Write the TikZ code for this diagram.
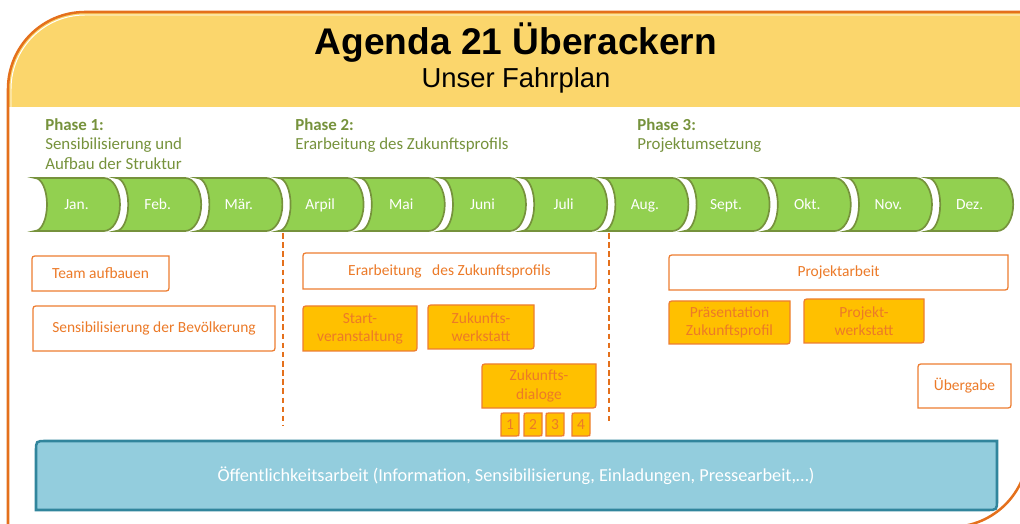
\documentclass[tikz,border=0pt]{standalone}
\usepackage{fontspec}
\setmainfont{Carlito}
\newfontfamily\headfont{Liberation Sans}
\definecolor{framecol}{RGB}{228,112,28}
\definecolor{headcol}{RGB}{251,214,108}
\definecolor{mgreen}{RGB}{146,208,80}
\definecolor{mborder}{RGB}{118,146,60}
\definecolor{phasecol}{RGB}{118,146,60}
\definecolor{boxline}{RGB}{237,125,49}
\definecolor{boxtextcol}{RGB}{236,122,40}
\definecolor{gold}{RGB}{255,192,0}
\definecolor{barfill}{RGB}{147,205,221}
\definecolor{barline}{RGB}{49,133,156}

% box with rounded top-left and bottom-right corners
\newcommand{\rdbox}[8][6]{%
  \path[#2] (#3,#6) -- (#3,{#4+#1}) .. controls (#3,#4) .. ({#3+#1},#4) -- (#5,#4)
    -- (#5,{#6-#1}) .. controls (#5,#6) .. ({#5-#1},#6) -- cycle;
  \node[boxtext] (#7) at ({(#3+#5)/2},{(#4+#6)/2}) {#8};}

\begin{document}
\begin{tikzpicture}[x=0.025cm, y=-0.025cm,
    month/.style={fill=mgreen, draw=mborder, line width=1.2pt},
    monthlabel/.style={text=white, anchor=base, font=\fontsize{11}{13}\selectfont},
    phase/.style={text=phasecol, align=left, anchor=north west, inner sep=0pt, font=\fontsize{12}{14}\selectfont},
    plainbox/.style={draw=boxline, fill=white, line width=0.9pt},
    goldbox/.style={draw=boxline, fill=gold, line width=0.9pt},
    boxtext/.style={text=boxtextcol, align=center, inner sep=0pt, font=\fontsize{11}{13}\selectfont},
    sep/.style={draw=framecol, line width=1.4pt, dash pattern=on 4pt off 2.5pt}]
  \useasboundingbox (0,0) rectangle (1020,524);
  \clip (0,0) rectangle (1020,524);

  % frame and header
  \fill[headcol] (8,107) -- (8,89) .. controls (8,46.5) and (42.5,12) .. (85,12) -- (1028,12) -- (1028,107) -- cycle;
  \draw[white, line width=0.7pt] (11,107) -- (11,89) .. controls (11,48.2) and (44.2,15) .. (85,15) -- (1028,15);
  \draw[framecol, line width=1.8pt] (8,527) -- (8,89) .. controls (8,46.5) and (42.5,12) .. (85,12) -- (1028,12)
    -- (1028,450) .. controls (1028,492.5) and (993.5,527) .. (951,527) -- cycle;
  \node[anchor=base, font=\headfont\bfseries\fontsize{26.4}{30}\selectfont] (title) at (516,55) {Agenda 21 Überackern};
  \node[anchor=base, font=\headfont\fontsize{19.5}{22}\selectfont] (sub) at (516,88) {Unser Fahrplan};

  % phases
  \node[phase] (ph1) at (45,118) {\textbf{Phase 1:}\\Sensibilisierung und\\Aufbau der Struktur};
  \node[phase] (ph2) at (295,118) {\textbf{Phase 2:}\\Erarbeitung des Zukunftsprofils};
  \node[phase] (ph3) at (637,118) {\textbf{Phase 3:}\\Projektumsetzung};

  % months
  \foreach \m [count=\i from 0] in {Jan.,Feb.,Mär.,Arpil,Mai,Juni,Juli,Aug.,Sept.,Okt.,Nov.,Dez.}{
    \pgfmathsetmacro\x{35+81.2*\i}
    \path[month] (\x,178) -- ({\x+69},178) .. controls ({\x+77.8},178) and ({\x+85},189.9) .. ({\x+85},204.5)
      .. controls ({\x+85},219.1) and ({\x+77.8},231) .. ({\x+69},231) -- (\x,231)
      .. controls ({\x+6.6},231) and ({\x+12},219.1) .. ({\x+12},204.5)
      .. controls ({\x+12},189.9) and ({\x+6.6},178) .. (\x,178) -- cycle;
    \node[monthlabel] (m\i) at ({\x+41.5},210) {\m};
  }

  % phase borders
  \draw[sep] (283,233) -- (283,425);
  \draw[sep] (609,233) -- (609,423);

  % tasks
  \rdbox{plainbox}{32}{256}{169}{291}{team}{Team aufbauen}
  \rdbox{plainbox}{33}{306}{275}{351}{sens}{Sensibilisierung der Bevölkerung}
  \rdbox{plainbox}{303}{253}{596}{289}{erarb}{Erarbeitung\ \ \ des Zukunftsprofils}
  \rdbox{goldbox}{303}{306}{417}{351}{start}{Start-\\veranstaltung}
  \rdbox{goldbox}{428}{305}{534}{349}{zwerk}{Zukunfts-\\werkstatt}
  \rdbox{goldbox}{482}{364}{596}{408}{dial}{Zukunfts-\\dialoge}
  \rdbox[3]{goldbox}{501}{413}{519}{436}{d1}{1}
  \rdbox[3]{goldbox}{524}{413}{542}{436}{d2}{2}
  \rdbox[3]{goldbox}{546}{413}{564}{436}{d3}{3}
  \rdbox[3]{goldbox}{572}{413}{590}{436}{d4}{4}
  \rdbox{plainbox}{669}{255}{1008}{290}{proj}{Projektarbeit}
  \rdbox{goldbox}{669}{301}{790}{344}{praes}{Präsentation\\Zukunftsprofil}
  \rdbox{goldbox}{804}{299}{924}{343}{pwerk}{Projekt-\\werkstatt}
  \rdbox{plainbox}{918}{364}{1011}{408}{ueber}{Übergabe}

  % public relations
  \path[fill=barfill, draw=barline, line width=1.8pt] (36,510) -- (36,451) .. controls (36,441) .. (46,441) -- (997,441)
    -- (997,500) .. controls (997,510) .. (987,510) -- cycle;
  \node[text=white, font=\fontsize{13}{15}\selectfont] (oeff) at (516,476) {Öffentlichkeitsarbeit (Information, Sensibilisierung, Einladungen, Pressearbeit,…)};
\end{tikzpicture}
\end{document}
